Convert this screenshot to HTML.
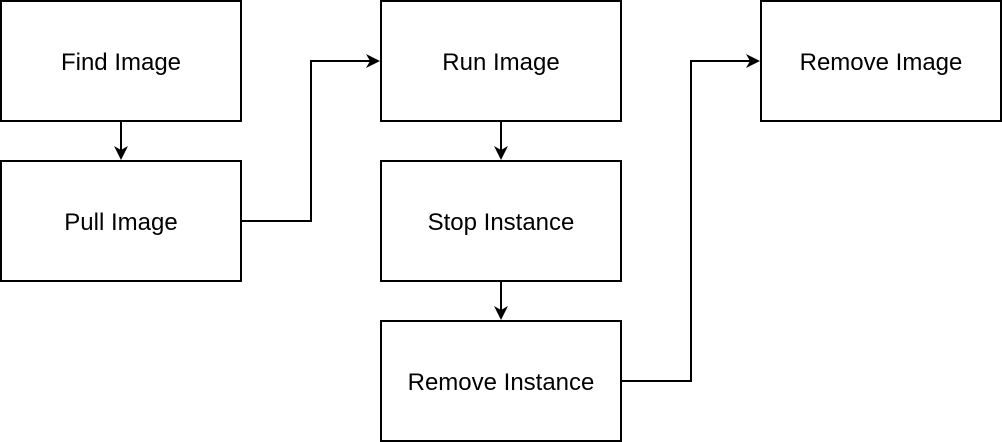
<!DOCTYPE html>
<html><head><meta charset="utf-8"><style>
html,body{margin:0;padding:0;background:#fff;width:1002px;height:442px;overflow:hidden}
svg text{font-family:"Liberation Sans",Arial,sans-serif;font-size:24px;fill:#000}
</style></head><body>
<svg width="1002" height="442" viewBox="0 0 1002 442" xmlns="http://www.w3.org/2000/svg">
<g fill="#fff" stroke="#000" stroke-width="2">
<rect x="1" y="1" width="240" height="120"/>
<rect x="1" y="161" width="240" height="120"/>
<rect x="381" y="1" width="240" height="120"/>
<rect x="381" y="161" width="240" height="120"/>
<rect x="381" y="321" width="240" height="120"/>
<rect x="761" y="1" width="240" height="120"/>
</g>
<g fill="none" stroke="#000" stroke-width="2">
<path d="M121,121 V152"/>
<path d="M241,221 H311 V61 H372"/>
<path d="M501,121 V152"/>
<path d="M501,281 V312"/>
<path d="M621,381 H691 V61 H752"/>
</g>
<g fill="#000">
<path d="M121,160 L114,146 L121,150 L128,146 Z"/>
<path d="M501,160 L494,146 L501,150 L508,146 Z"/>
<path d="M501,320 L494,306 L501,310 L508,306 Z"/>
<path d="M380,61 L366,54 L370,61 L366,68 Z"/>
<path d="M760,61 L746,54 L750,61 L746,68 Z"/>
</g>
<g text-anchor="middle">
<text x="121" y="70">Find Image</text>
<text x="121" y="230">Pull Image</text>
<text x="501" y="70">Run Image</text>
<text x="501" y="230">Stop Instance</text>
<text x="501" y="390">Remove Instance</text>
<text x="881" y="70">Remove Image</text>
</g>
</svg>
</body></html>
